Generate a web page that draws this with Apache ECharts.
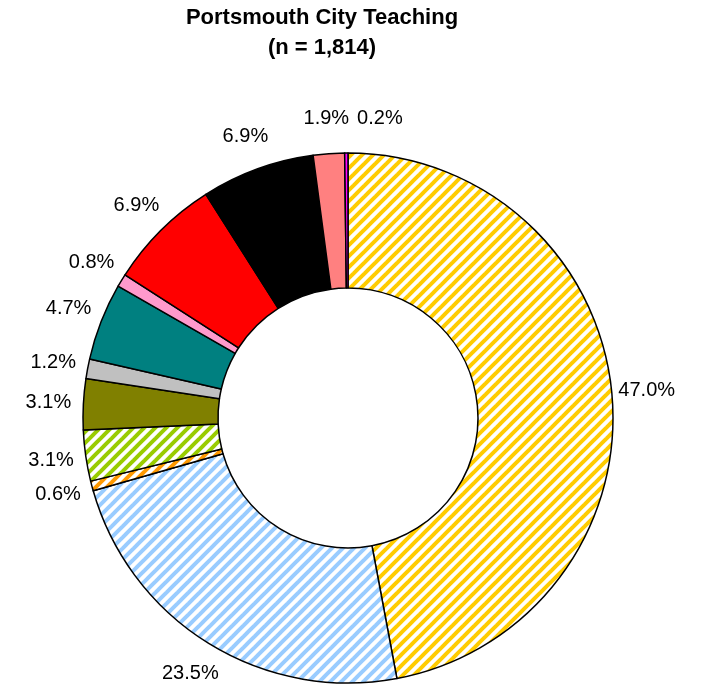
<!DOCTYPE html>
<html>
<head>
<meta charset="utf-8">
<script src="https://cdn.jsdelivr.net/npm/echarts@6/dist/echarts.min.js"></script>
<style>
html,body{margin:0;padding:0;background:#fff;}
#chart{width:716px;height:684px;}
</style>
</head>
<body>
<div id="chart"></div>
<script>
var titleText = 'Portsmouth City Teaching\n(n = 1,814)';
var categories = ['S1','S2','S3','S4','S5','S6','S7','S8','S9','S10','S11','S12'];
var values = [47.0, 23.5, 0.6, 3.1, 3.1, 1.2, 4.7, 0.8, 6.9, 6.9, 1.9, 0.2];
var colors = ['#FFCC00','#99CCFF','#FF9900','#99CC00','#808000','#C0C0C0','#008080','#FF99CC','#FF0000','#000000','#FF8080','#FF00FF'];
var hatched = [true, true, true, true, false, false, false, false, false, false, false, false];

var CX = 348, CY = 418, R_IN = 130, R_OUT = 265, LABEL_OFFSET = 35;

function stripe(color){
  var s = 11;
  var c = document.createElement('canvas');
  c.width = s; c.height = s;
  var ctx = c.getContext('2d');
  ctx.fillStyle = '#fff';
  ctx.fillRect(0,0,s,s);
  ctx.strokeStyle = color;
  ctx.lineWidth = 4;
  [0, s, 2*s].forEach(function(k){
    ctx.beginPath();
    ctx.moveTo(-2, k + 2);
    ctx.lineTo(k + 2, -2);
    ctx.stroke();
  });
  return c;
}

var data = values.map(function(v,i){
  return {
    name: categories[i],
    value: v,
    itemStyle: { color: hatched[i] ? { image: stripe(colors[i]), repeat: 'repeat' } : colors[i] }
  };
});

var chart = echarts.init(document.getElementById('chart'), null, {renderer:'canvas'});
chart.setOption({
  animation: false,
  backgroundColor: '#fff',
  title: {
    text: titleText,
    left: 322,
    top: 3,
    padding: 0,
    textAlign: 'center',
    textStyle: { fontFamily: 'Liberation Sans, Arial, sans-serif', fontWeight: 'bold', fontSize: 22, lineHeight: 30, color: '#000' }
  },
  series: [{
    type: 'pie',
    center: [CX, CY],
    radius: [R_IN, R_OUT],
    startAngle: 90,
    clockwise: true,
    avoidLabelOverlap: false,
    data: data,
    itemStyle: { borderColor: '#000', borderWidth: 1.5 },
    label: {
      show: true,
      position: 'outside',
      formatter: function(p){ return p.value.toFixed(1) + '%'; },
      fontFamily: 'Liberation Sans, Arial, sans-serif',
      fontSize: 20,
      minMargin: 8,
      color: '#000'
    },
    labelLine: { show: true, length: 10, length2: 0, lineStyle: { opacity: 0 } },
    labelLayout: function(p){
      var pts = p.labelLinePoints;
      var x0, y0, ux, uy;
      if (pts && pts.length >= 2) {
        var dx = pts[1][0] - pts[0][0], dy = pts[1][1] - pts[0][1];
        var len = Math.sqrt(dx*dx + dy*dy) || 1;
        ux = dx/len; uy = dy/len; x0 = pts[0][0]; y0 = pts[0][1];
      } else {
        var total = values.reduce(function(a,b){return a+b;},0);
        var before = 0; for (var i=0;i<p.dataIndex;i++) before += values[i];
        var ang = (before + values[p.dataIndex]/2)/total*2*Math.PI;
        ux = Math.sin(ang); uy = -Math.cos(ang);
        x0 = CX + R_OUT*ux; y0 = CY + R_OUT*uy;
      }
      var out = {
        x: x0 + ux*LABEL_OFFSET,
        y: y0 + uy*LABEL_OFFSET,
        align: 'center',
        verticalAlign: 'middle'
      };
      if (p.dataIndex >= 10) out.moveOverlap = 'shiftX';
      return out;
    },
    emphasis: { disabled: true }
  }]
});
</script>
</body>
</html>
